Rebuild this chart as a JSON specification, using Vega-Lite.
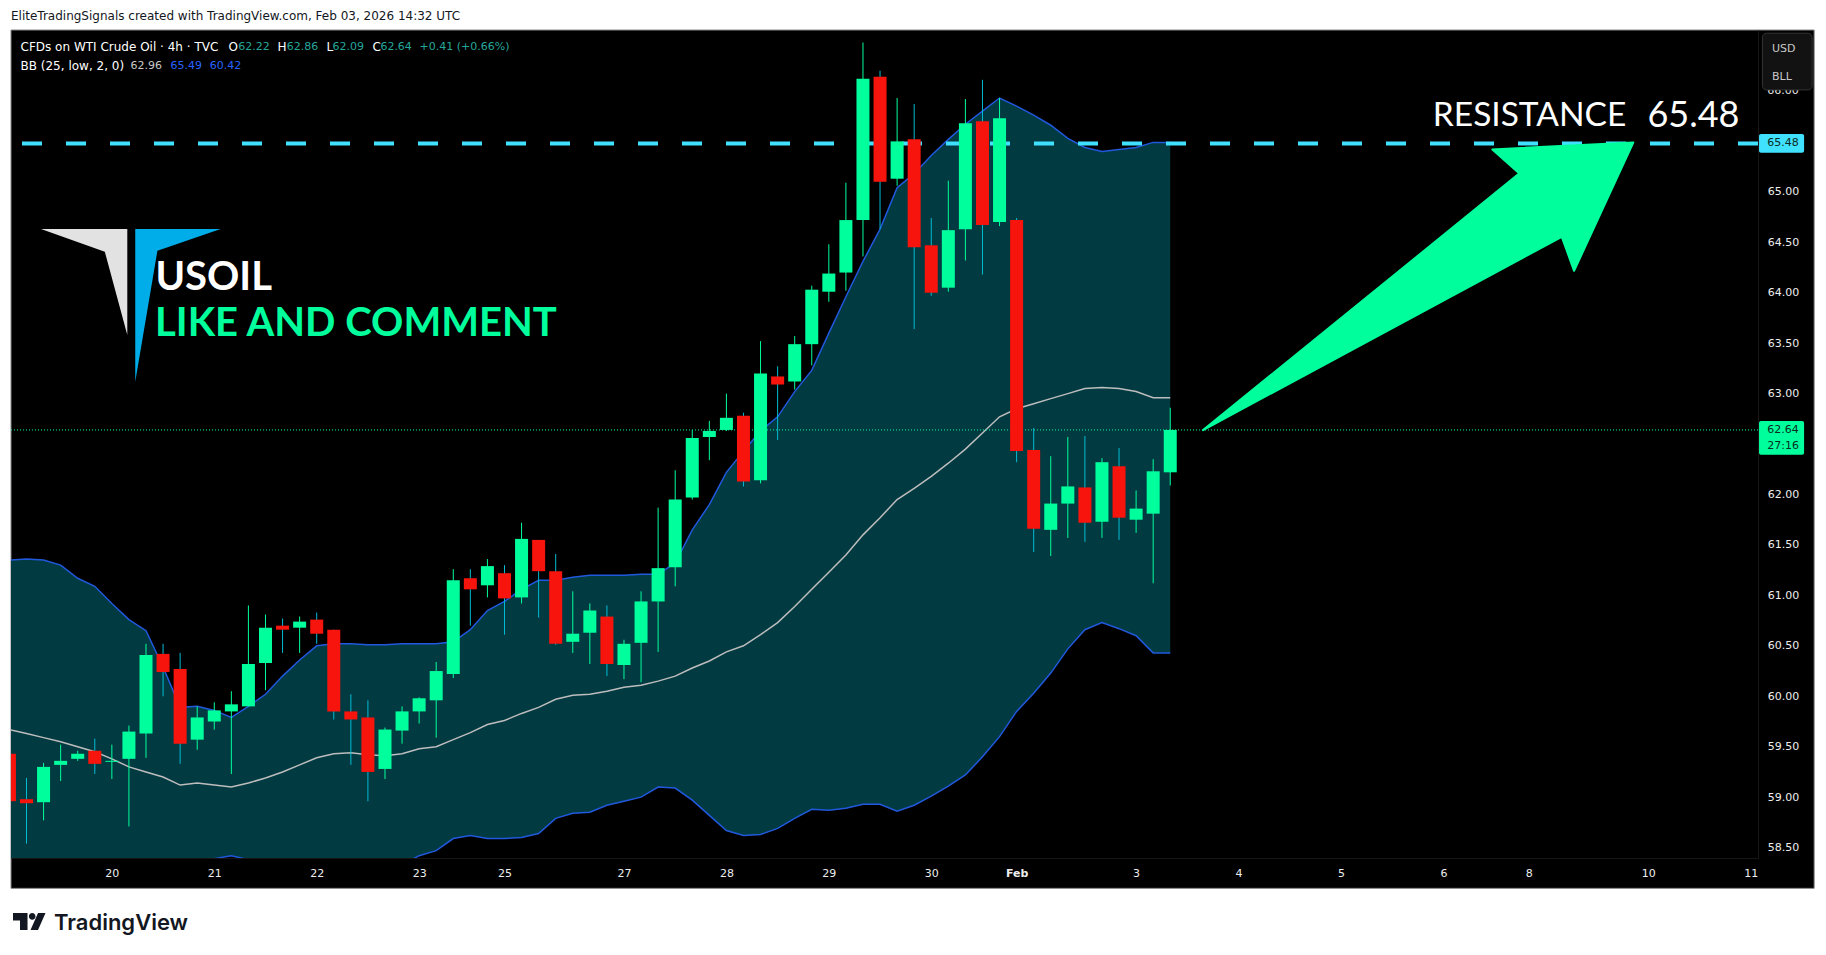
{
  "$schema": "https://vega.github.io/schema/vega-lite/v6.json",
  "width": 1747,
  "height": 828,
  "autosize": "none",
  "padding": {"left": 11, "top": 30, "right": 68, "bottom": 97},
  "background": "#ffffff",
  "config": {
    "view": {"stroke": null},
    "axis": {"title": null, "grid": false, "ticks": false, "domainColor": "#161616", "labelColor": "#eeeeee", "labelFont": "DejaVu Sans", "labelFontSize": 11},
    "text": {"font": "DejaVu Sans", "fontSize": 11, "align": "left", "baseline": "middle"}
  },
  "datasets": {
    "candles": [
      {"i": -1, "open": 59.43, "high": 59.55, "low": 58.9, "close": 58.96},
      {"i": 0, "open": 58.98, "high": 59.19, "low": 58.54, "close": 58.94},
      {"i": 1, "open": 58.95, "high": 59.34, "low": 58.77, "close": 59.3},
      {"i": 2, "open": 59.32, "high": 59.52, "low": 59.16, "close": 59.36},
      {"i": 3, "open": 59.38, "high": 59.46, "low": 59.36, "close": 59.43},
      {"i": 4, "open": 59.46, "high": 59.58, "low": 59.23, "close": 59.33},
      {"i": 5, "open": 59.35, "high": 59.52, "low": 59.18, "close": 59.36},
      {"i": 6, "open": 59.38, "high": 59.71, "low": 58.71, "close": 59.65},
      {"i": 7, "open": 59.63, "high": 60.52, "low": 59.39, "close": 60.41},
      {"i": 8, "open": 60.42, "high": 60.52, "low": 60.0, "close": 60.24},
      {"i": 9, "open": 60.27, "high": 60.43, "low": 59.33, "close": 59.53},
      {"i": 10, "open": 59.57, "high": 59.9, "low": 59.47, "close": 59.79},
      {"i": 11, "open": 59.75, "high": 59.94, "low": 59.67, "close": 59.86},
      {"i": 12, "open": 59.85, "high": 60.05, "low": 59.23, "close": 59.92},
      {"i": 13, "open": 59.9, "high": 60.9, "low": 59.9, "close": 60.32},
      {"i": 14, "open": 60.33, "high": 60.81, "low": 60.06, "close": 60.68},
      {"i": 15, "open": 60.7, "high": 60.77, "low": 60.43, "close": 60.66},
      {"i": 16, "open": 60.68, "high": 60.79, "low": 60.43, "close": 60.74},
      {"i": 17, "open": 60.76, "high": 60.83, "low": 60.52, "close": 60.62},
      {"i": 18, "open": 60.66, "high": 60.66, "low": 59.77, "close": 59.85},
      {"i": 19, "open": 59.85, "high": 60.02, "low": 59.32, "close": 59.77},
      {"i": 20, "open": 59.79, "high": 59.96, "low": 58.96, "close": 59.25},
      {"i": 21, "open": 59.28, "high": 59.69, "low": 59.18, "close": 59.67},
      {"i": 22, "open": 59.66, "high": 59.9, "low": 59.53, "close": 59.85},
      {"i": 23, "open": 59.85, "high": 59.99, "low": 59.73, "close": 59.98},
      {"i": 24, "open": 59.96, "high": 60.34, "low": 59.59, "close": 60.25},
      {"i": 25, "open": 60.22, "high": 61.26, "low": 60.18, "close": 61.15},
      {"i": 26, "open": 61.17, "high": 61.26, "low": 60.7, "close": 61.06},
      {"i": 27, "open": 61.1, "high": 61.36, "low": 60.98, "close": 61.29},
      {"i": 28, "open": 61.22, "high": 61.3, "low": 60.61, "close": 60.97},
      {"i": 29, "open": 60.98, "high": 61.72, "low": 60.92, "close": 61.56},
      {"i": 30, "open": 61.55, "high": 61.55, "low": 60.78, "close": 61.24},
      {"i": 31, "open": 61.24, "high": 61.41, "low": 60.51, "close": 60.52},
      {"i": 32, "open": 60.54, "high": 61.04, "low": 60.43, "close": 60.62},
      {"i": 33, "open": 60.63, "high": 60.92, "low": 60.32, "close": 60.85},
      {"i": 34, "open": 60.79, "high": 60.9, "low": 60.2, "close": 60.32},
      {"i": 35, "open": 60.31, "high": 60.56, "low": 60.17, "close": 60.52},
      {"i": 36, "open": 60.53, "high": 61.04, "low": 60.14, "close": 60.94},
      {"i": 37, "open": 60.94, "high": 61.87, "low": 60.44, "close": 61.27},
      {"i": 38, "open": 61.28, "high": 62.24, "low": 61.09, "close": 61.95},
      {"i": 39, "open": 61.97, "high": 62.64, "low": 61.95, "close": 62.56},
      {"i": 40, "open": 62.57, "high": 62.73, "low": 62.34, "close": 62.63},
      {"i": 41, "open": 62.64, "high": 63.0, "low": 62.63, "close": 62.76},
      {"i": 42, "open": 62.78, "high": 62.81, "low": 62.08, "close": 62.13},
      {"i": 43, "open": 62.14, "high": 63.52, "low": 62.11, "close": 63.2},
      {"i": 44, "open": 63.17, "high": 63.27, "low": 62.54, "close": 63.09},
      {"i": 45, "open": 63.12, "high": 63.57, "low": 63.04, "close": 63.49},
      {"i": 46, "open": 63.49, "high": 64.07, "low": 63.28, "close": 64.03},
      {"i": 47, "open": 64.01, "high": 64.48, "low": 63.91, "close": 64.19},
      {"i": 48, "open": 64.2, "high": 65.09, "low": 64.02, "close": 64.72},
      {"i": 49, "open": 64.72, "high": 66.48, "low": 64.36, "close": 66.12},
      {"i": 50, "open": 66.14, "high": 66.2, "low": 64.63, "close": 65.1},
      {"i": 51, "open": 65.13, "high": 65.93, "low": 65.06, "close": 65.5},
      {"i": 52, "open": 65.52, "high": 65.87, "low": 63.64, "close": 64.45},
      {"i": 53, "open": 64.47, "high": 64.74, "low": 63.97, "close": 64.0},
      {"i": 54, "open": 64.05, "high": 65.11, "low": 64.01, "close": 64.62},
      {"i": 55, "open": 64.63, "high": 65.92, "low": 64.32, "close": 65.68},
      {"i": 56, "open": 65.7, "high": 66.11, "low": 64.18, "close": 64.67},
      {"i": 57, "open": 64.7, "high": 65.93, "low": 64.66, "close": 65.73},
      {"i": 58, "open": 64.72, "high": 64.74, "low": 62.32, "close": 62.43},
      {"i": 59, "open": 62.44, "high": 62.66, "low": 61.43, "close": 61.66},
      {"i": 60, "open": 61.65, "high": 62.38, "low": 61.39, "close": 61.91},
      {"i": 61, "open": 61.91, "high": 62.57, "low": 61.57, "close": 62.08},
      {"i": 62, "open": 62.07, "high": 62.58, "low": 61.53, "close": 61.72},
      {"i": 63, "open": 61.73, "high": 62.36, "low": 61.57, "close": 62.32},
      {"i": 64, "open": 62.28, "high": 62.46, "low": 61.55, "close": 61.77},
      {"i": 65, "open": 61.75, "high": 62.04, "low": 61.62, "close": 61.86},
      {"i": 66, "open": 61.81, "high": 62.35, "low": 61.12, "close": 62.23},
      {"i": 67, "open": 62.22, "high": 62.86, "low": 62.09, "close": 62.64}
    ],
    "bands": [
      {"i": -1, "upper": 61.35, "basis": 59.67, "lower": 57.99},
      {"i": 0, "upper": 61.36, "basis": 59.63, "lower": 57.9},
      {"i": 1, "upper": 61.35, "basis": 59.59, "lower": 57.82},
      {"i": 2, "upper": 61.3, "basis": 59.55, "lower": 57.8},
      {"i": 3, "upper": 61.17, "basis": 59.5, "lower": 57.83},
      {"i": 4, "upper": 61.09, "basis": 59.45, "lower": 57.82},
      {"i": 5, "upper": 60.92, "basis": 59.38, "lower": 57.83},
      {"i": 6, "upper": 60.76, "basis": 59.3, "lower": 57.83},
      {"i": 7, "upper": 60.65, "basis": 59.25, "lower": 57.86},
      {"i": 8, "upper": 60.29, "basis": 59.2, "lower": 58.11},
      {"i": 9, "upper": 59.89, "basis": 59.12, "lower": 58.35},
      {"i": 10, "upper": 59.9, "basis": 59.14, "lower": 58.37},
      {"i": 11, "upper": 59.86, "basis": 59.12, "lower": 58.39},
      {"i": 12, "upper": 59.79, "basis": 59.1, "lower": 58.42},
      {"i": 13, "upper": 59.9, "basis": 59.14, "lower": 58.38},
      {"i": 14, "upper": 60.02, "basis": 59.19, "lower": 58.37},
      {"i": 15, "upper": 60.2, "basis": 59.25, "lower": 58.31},
      {"i": 16, "upper": 60.36, "basis": 59.32, "lower": 58.28},
      {"i": 17, "upper": 60.5, "basis": 59.39, "lower": 58.28},
      {"i": 18, "upper": 60.52, "basis": 59.43, "lower": 58.34},
      {"i": 19, "upper": 60.52, "basis": 59.44, "lower": 58.36},
      {"i": 20, "upper": 60.51, "basis": 59.42, "lower": 58.32},
      {"i": 21, "upper": 60.51, "basis": 59.41, "lower": 58.31},
      {"i": 22, "upper": 60.52, "basis": 59.43, "lower": 58.33},
      {"i": 23, "upper": 60.52, "basis": 59.48, "lower": 58.42},
      {"i": 24, "upper": 60.52, "basis": 59.5, "lower": 58.47},
      {"i": 25, "upper": 60.54, "basis": 59.57, "lower": 58.59},
      {"i": 26, "upper": 60.66, "basis": 59.64, "lower": 58.62},
      {"i": 27, "upper": 60.85, "basis": 59.72, "lower": 58.59},
      {"i": 28, "upper": 60.94, "basis": 59.76, "lower": 58.59},
      {"i": 29, "upper": 61.06, "basis": 59.83, "lower": 58.6},
      {"i": 30, "upper": 61.15, "basis": 59.89, "lower": 58.64},
      {"i": 31, "upper": 61.15, "basis": 59.97, "lower": 58.79},
      {"i": 32, "upper": 61.18, "basis": 60.01, "lower": 58.84},
      {"i": 33, "upper": 61.2, "basis": 60.02, "lower": 58.85},
      {"i": 34, "upper": 61.2, "basis": 60.05, "lower": 58.92},
      {"i": 35, "upper": 61.2, "basis": 60.09, "lower": 58.96},
      {"i": 36, "upper": 61.21, "basis": 60.11, "lower": 59.0},
      {"i": 37, "upper": 61.21, "basis": 60.15, "lower": 59.1},
      {"i": 38, "upper": 61.32, "basis": 60.2, "lower": 59.09},
      {"i": 39, "upper": 61.65, "basis": 60.28, "lower": 58.97},
      {"i": 40, "upper": 61.9, "basis": 60.35, "lower": 58.82},
      {"i": 41, "upper": 62.22, "basis": 60.44, "lower": 58.67},
      {"i": 42, "upper": 62.43, "basis": 60.5, "lower": 58.62},
      {"i": 43, "upper": 62.63, "basis": 60.61, "lower": 58.63},
      {"i": 44, "upper": 62.77, "basis": 60.73, "lower": 58.69},
      {"i": 45, "upper": 63.02, "basis": 60.89, "lower": 58.79},
      {"i": 46, "upper": 63.23, "basis": 61.06, "lower": 58.88},
      {"i": 47, "upper": 63.6, "basis": 61.23, "lower": 58.87},
      {"i": 48, "upper": 63.96, "basis": 61.4, "lower": 58.89},
      {"i": 49, "upper": 64.31, "basis": 61.6, "lower": 58.93},
      {"i": 50, "upper": 64.63, "basis": 61.77, "lower": 58.93},
      {"i": 51, "upper": 65.04, "basis": 61.95, "lower": 58.86},
      {"i": 52, "upper": 65.18, "basis": 62.06, "lower": 58.92},
      {"i": 53, "upper": 65.36, "basis": 62.18, "lower": 59.01},
      {"i": 54, "upper": 65.52, "basis": 62.31, "lower": 59.11},
      {"i": 55, "upper": 65.67, "basis": 62.45, "lower": 59.22},
      {"i": 56, "upper": 65.8, "basis": 62.61, "lower": 59.4},
      {"i": 57, "upper": 65.93, "basis": 62.77, "lower": 59.6},
      {"i": 58, "upper": 65.85, "basis": 62.85, "lower": 59.85},
      {"i": 59, "upper": 65.76, "basis": 62.9, "lower": 60.03},
      {"i": 60, "upper": 65.66, "basis": 62.95, "lower": 60.23},
      {"i": 61, "upper": 65.53, "basis": 63.0, "lower": 60.47},
      {"i": 62, "upper": 65.44, "basis": 63.05, "lower": 60.66},
      {"i": 63, "upper": 65.4, "basis": 63.06, "lower": 60.73},
      {"i": 64, "upper": 65.42, "basis": 63.05, "lower": 60.67},
      {"i": 65, "upper": 65.44, "basis": 63.02, "lower": 60.6},
      {"i": 66, "upper": 65.49, "basis": 62.96, "lower": 60.43},
      {"i": 67, "upper": 65.49, "basis": 62.96, "lower": 60.43}
    ]
  },
  "layer": [
    {
      "data": {"values": [{"i": -0.908, "i2": 104.72, "p": 66.604, "p2": 58.096}]},
      "mark": {"type": "rect", "color": "#000000", "stroke": "#888888", "strokeWidth": 1},
      "encoding": {
        "x": {
          "field": "i",
          "type": "quantitative",
          "scale": {"domain": [-0.908, 101.43], "nice": false, "zero": false, "padding": 0},
          "axis": {
            "orient": "bottom",
            "zindex": 1,
            "values": [5, 11, 17, 23, 28, 35, 41, 47, 53, 58, 65, 71, 77, 83, 88, 95, 101],
            "labelExpr": "{'5':'20','11':'21','17':'22','23':'23','28':'25','35':'27','41':'28','47':'29','53':'30','58':'Feb','65':'3','71':'4','77':'5','83':'6','88':'8','95':'10','101':'11'}[datum.value]",
            "labelPadding": 9,
            "labelBound": false,
            "labelFlush": false,
            "labelOverlap": false,
            "labelFontWeight": {"condition": {"test": "datum.value == 58", "value": "bold"}, "value": "normal"}
          }
        },
        "x2": {"field": "i2"},
        "y": {
          "field": "p",
          "type": "quantitative",
          "scale": {"domain": [58.397, 66.604], "nice": false, "zero": false, "padding": 0},
          "axis": {
            "orient": "right",
            "zindex": 1,
            "values": [58.5, 59, 59.5, 60, 60.5, 61, 61.5, 62, 63, 63.5, 64, 64.5, 65],
            "format": ".2f",
            "labelAlign": "center",
            "labelPadding": 25
          }
        },
        "y2": {"field": "p2"}
      }
    },
    {
      "data": {"name": "bands"},
      "mark": {"type": "area", "color": "#023A42", "clip": true},
      "encoding": {
        "x": {"field": "i", "type": "quantitative"},
        "y": {"field": "upper", "type": "quantitative"},
        "y2": {"field": "lower"}
      }
    },
    {
      "data": {"name": "bands"},
      "mark": {"type": "line", "color": "#2159DD", "strokeWidth": 1.5, "clip": true},
      "encoding": {
        "x": {"field": "i", "type": "quantitative"},
        "y": {"field": "upper", "type": "quantitative"}
      }
    },
    {
      "data": {"name": "bands"},
      "mark": {"type": "line", "color": "#2159DD", "strokeWidth": 1.5, "clip": true},
      "encoding": {
        "x": {"field": "i", "type": "quantitative"},
        "y": {"field": "lower", "type": "quantitative"}
      }
    },
    {
      "data": {"name": "bands"},
      "mark": {"type": "line", "color": "#BDBDBD", "strokeWidth": 1.5, "clip": true},
      "encoding": {
        "x": {"field": "i", "type": "quantitative"},
        "y": {"field": "basis", "type": "quantitative"}
      }
    },
    {
      "data": {"values": [{"p": 62.64}]},
      "mark": {"type": "rule", "color": "#00FF9C", "strokeWidth": 1, "strokeDash": [1, 2]},
      "encoding": {"y": {"field": "p", "type": "quantitative"}}
    },
    {
      "data": {"values": [{"p": 65.48}]},
      "mark": {"type": "rule", "color": "#40E0FF", "strokeWidth": 4, "strokeDash": [20, 24]},
      "encoding": {"y": {"field": "p", "type": "quantitative"}}
    },
    {
      "data": {"name": "candles"},
      "mark": {"type": "rule", "strokeWidth": 1, "clip": true},
      "encoding": {
        "x": {"field": "i", "type": "quantitative"},
        "y": {"field": "low", "type": "quantitative"},
        "y2": {"field": "high"},
        "color": {"condition": {"test": "datum.close >= datum.open", "value": "#00FF9C"}, "value": "#00BCD4"}
      }
    },
    {
      "data": {"name": "candles"},
      "mark": {"type": "bar", "size": 13, "orient": "vertical", "clip": true},
      "encoding": {
        "x": {"field": "i", "type": "quantitative"},
        "y": {"field": "open", "type": "quantitative"},
        "y2": {"field": "close"},
        "color": {"condition": {"test": "datum.close >= datum.open", "value": "#00FF9C"}, "value": "#F7140C"}
      }
    },
    {
      "data": {"values": [{"i": 94.13, "p": 65.49}]},
      "mark": {"type": "point", "shape": "M-430.3 287.7L-114 31L-141 7L0 0L-59.3 128.4L-71.6 94.4Z", "size": 4, "filled": true, "opacity": 1, "color": "#00FF9C", "stroke": "#00FF9C", "strokeWidth": 2, "strokeJoin": "round"},
      "encoding": {
        "x": {"field": "i", "type": "quantitative"},
        "y": {"field": "p", "type": "quantitative"}
      }
    },
    {
      "data": {"values": [{"i": 5.905, "p": 64.632}]},
      "mark": {"type": "point", "shape": "M-86.3 0L0 0L0 106L-22.5 22.7Z", "size": 4, "filled": true, "opacity": 1, "color": "#E2E2E2"},
      "encoding": {
        "x": {"field": "i", "type": "quantitative"},
        "y": {"field": "p", "type": "quantitative"}
      }
    },
    {
      "data": {"values": [{"i": 6.37, "p": 64.632}]},
      "mark": {"type": "point", "shape": "M0 0L85.4 0L22.2 21.7L0 152.7Z", "size": 4, "filled": true, "opacity": 1, "color": "#00ADE8"},
      "encoding": {
        "x": {"field": "i", "type": "quantitative"},
        "y": {"field": "p", "type": "quantitative"}
      }
    },
    {
      "data": {"values": [{"i": -0.79, "p": 57.853}]},
      "mark": {"type": "point", "shape": "M0 0H14.5V17H7V7.5H0ZM22.5 3.5A3.3 3.3 0 1 1 15.9 3.5A3.3 3.3 0 1 1 22.5 3.5ZM25 0H32.5L25 17H17.5Z", "size": 4, "filled": true, "opacity": 1, "color": "#131722"},
      "encoding": {
        "x": {"field": "i", "type": "quantitative"},
        "y": {"field": "p", "type": "quantitative"}
      }
    },
    {
      "data": {"values": [{"i": 102.9, "p": 66, "label": "66.00"}]},
      "mark": {"type": "text", "align": "center", "color": "#eeeeee"},
      "encoding": {
        "x": {"field": "i", "type": "quantitative"},
        "y": {"field": "p", "type": "quantitative"},
        "text": {"field": "label"}
      }
    },
    {
      "data": {"values": [{"i": 101.69, "i2": 104.6, "p": 66.572, "p2": 66.01}]},
      "mark": {"type": "rect", "color": "#121212", "stroke": "#333333", "strokeWidth": 1, "cornerRadius": 4},
      "encoding": {
        "x": {"field": "i", "type": "quantitative"},
        "x2": {"field": "i2"},
        "y": {"field": "p", "type": "quantitative"},
        "y2": {"field": "p2"}
      }
    },
    {
      "data": {"values": [{"i": 101.49, "i2": 104.13, "p": 65.574, "p2": 65.388}]},
      "mark": {"type": "rect", "color": "#40E0FF", "cornerRadius": 2},
      "encoding": {
        "x": {"field": "i", "type": "quantitative"},
        "x2": {"field": "i2"},
        "y": {"field": "p", "type": "quantitative"},
        "y2": {"field": "p2"}
      }
    },
    {
      "data": {"values": [{"i": 101.49, "i2": 104.13, "p": 62.729, "p2": 62.393}]},
      "mark": {"type": "rect", "color": "#00FF9C", "cornerRadius": 2},
      "encoding": {
        "x": {"field": "i", "type": "quantitative"},
        "x2": {"field": "i2"},
        "y": {"field": "p", "type": "quantitative"},
        "y2": {"field": "p2"}
      }
    },
    {
      "data": {"values": [
        {"i": 102.9, "p": 65.48, "label": "65.48"},
        {"i": 102.9, "p": 62.637, "label": "62.64"},
        {"i": 102.9, "p": 62.484, "label": "27:16"}
      ]},
      "mark": {"type": "text", "align": "center", "color": "#0A2A22"},
      "encoding": {
        "x": {"field": "i", "type": "quantitative"},
        "y": {"field": "p", "type": "quantitative"},
        "text": {"field": "label"}
      }
    },
    {
      "data": {"values": [
        {"i": 102.25, "p": 66.42, "label": "USD"},
        {"i": 102.25, "p": 66.14, "label": "BLL"}
      ]},
      "mark": {"type": "text", "color": "#c8c8c8"},
      "encoding": {
        "x": {"field": "i", "type": "quantitative"},
        "y": {"field": "p", "type": "quantitative"},
        "text": {"field": "label"}
      }
    },
    {
      "data": {"values": [{"i": -0.908, "p": 66.743, "label": "EliteTradingSignals created with TradingView.com, Feb 03, 2026 14:32 UTC"}]},
      "mark": {"type": "text", "fontSize": 12, "color": "#131722"},
      "encoding": {
        "x": {"field": "i", "type": "quantitative"},
        "y": {"field": "p", "type": "quantitative"},
        "text": {"field": "label"}
      }
    },
    {
      "data": {"values": [
        {"i": -0.35, "p": 66.439, "label": "CFDs on WTI Crude Oil · 4h · TVC"},
        {"i": 11.83, "p": 66.439, "label": "O"},
        {"i": 14.71, "p": 66.439, "label": "H"},
        {"i": 17.58, "p": 66.439, "label": "L"},
        {"i": 20.27, "p": 66.439, "label": "C"},
        {"i": -0.35, "p": 66.251, "label": "BB (25, low, 2, 0)"}
      ]},
      "mark": {"type": "text", "fontSize": 12, "color": "#ffffff"},
      "encoding": {
        "x": {"field": "i", "type": "quantitative"},
        "y": {"field": "p", "type": "quantitative"},
        "text": {"field": "label"}
      }
    },
    {
      "data": {"values": [
        {"i": 12.41, "p": 66.439, "label": "62.22"},
        {"i": 15.24, "p": 66.439, "label": "62.86"},
        {"i": 17.93, "p": 66.439, "label": "62.09"},
        {"i": 20.73, "p": 66.439, "label": "62.64"},
        {"i": 23.02, "p": 66.439, "label": "+0.41"},
        {"i": 25.2, "p": 66.439, "label": "(+0.66%)"}
      ]},
      "mark": {"type": "text", "color": "#26A69A"},
      "encoding": {
        "x": {"field": "i", "type": "quantitative"},
        "y": {"field": "p", "type": "quantitative"},
        "text": {"field": "label"}
      }
    },
    {
      "data": {"values": [{"i": 6.09, "p": 66.251, "label": "62.96"}]},
      "mark": {"type": "text", "color": "#C8C8C8"},
      "encoding": {
        "x": {"field": "i", "type": "quantitative"},
        "y": {"field": "p", "type": "quantitative"},
        "text": {"field": "label"}
      }
    },
    {
      "data": {"values": [
        {"i": 8.43, "p": 66.251, "label": "65.49"},
        {"i": 10.73, "p": 66.251, "label": "60.42"}
      ]},
      "mark": {"type": "text", "color": "#2962FF"},
      "encoding": {
        "x": {"field": "i", "type": "quantitative"},
        "y": {"field": "p", "type": "quantitative"},
        "text": {"field": "label"}
      }
    },
    {
      "data": {"values": [{"i": 7.55, "p": 64.15, "label": "USOIL"}]},
      "mark": {"type": "text", "font": "Lato", "fontSize": 40, "fontWeight": "bold", "color": "#ffffff"},
      "encoding": {
        "x": {"field": "i", "type": "quantitative"},
        "y": {"field": "p", "type": "quantitative"},
        "text": {"field": "label"}
      }
    },
    {
      "data": {"values": [{"i": 7.53, "p": 63.69, "label": "LIKE AND COMMENT"}]},
      "mark": {"type": "text", "font": "Lato", "fontSize": 40, "fontWeight": "bold", "color": "#00FF9C"},
      "encoding": {
        "x": {"field": "i", "type": "quantitative"},
        "y": {"field": "p", "type": "quantitative"},
        "text": {"field": "label"}
      }
    },
    {
      "data": {"values": [{"i": 82.38, "p": 65.75, "label": "RESISTANCE"}]},
      "mark": {"type": "text", "font": "Lato", "fontSize": 33.5, "color": "#ffffff"},
      "encoding": {
        "x": {"field": "i", "type": "quantitative"},
        "y": {"field": "p", "type": "quantitative"},
        "text": {"field": "label"}
      }
    },
    {
      "data": {"values": [{"i": 94.95, "p": 65.75, "label": "65.48"}]},
      "mark": {"type": "text", "font": "Lato", "fontSize": 36, "color": "#ffffff"},
      "encoding": {
        "x": {"field": "i", "type": "quantitative"},
        "y": {"field": "p", "type": "quantitative"},
        "text": {"field": "label"}
      }
    },
    {
      "data": {"values": [{"i": 1.61, "p": 57.755, "label": "TradingView"}]},
      "mark": {"type": "text", "font": "Inter", "fontSize": 22, "fontWeight": 600, "color": "#131722"},
      "encoding": {
        "x": {"field": "i", "type": "quantitative"},
        "y": {"field": "p", "type": "quantitative"},
        "text": {"field": "label"}
      }
    }
  ]
}
